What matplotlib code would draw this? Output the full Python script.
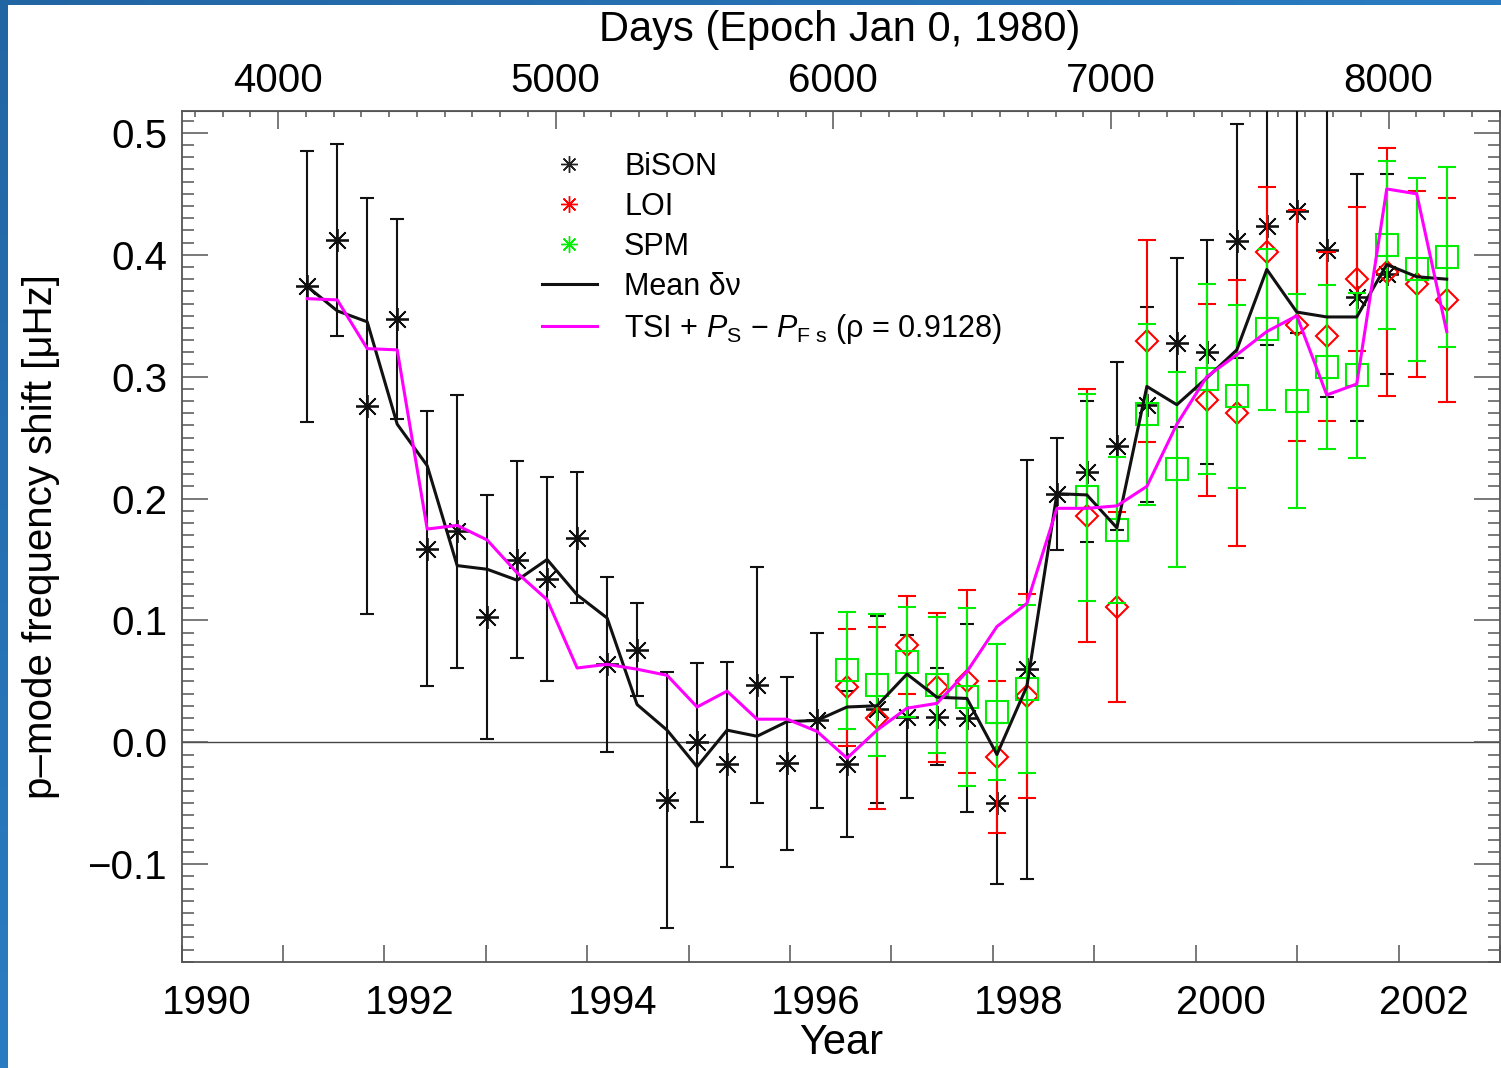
import numpy as np
import matplotlib
matplotlib.use('Agg')
import matplotlib.pyplot as plt
from matplotlib.lines import Line2D
from matplotlib.ticker import MultipleLocator, FuncFormatter

plt.rcParams['font.family'] = ['Liberation Sans', 'DejaVu Sans']
plt.rcParams['mathtext.fontset'] = 'custom'
plt.rcParams['mathtext.rm'] = 'Liberation Sans'
plt.rcParams['mathtext.it'] = 'Liberation Sans:italic'

# BiSON (days since Jan 0, 1980)
bison_days = [4105, 4213, 4321, 4429, 4537, 4645, 4753, 4861, 4969, 5077,
              5185, 5293, 5401, 5509, 5617, 5725, 5833, 5941, 6049, 6157,
              6265, 6373, 6481, 6589, 6697, 6805, 6913, 7021, 7129, 7237,
              7345, 7453, 7561, 7669, 7777, 7885, 7993]
bison_val = [0.374, 0.412, 0.276, 0.347, 0.159, 0.173, 0.103, 0.150, 0.134, 0.168,
             0.064, 0.076, -0.047, 0.000, -0.018, 0.047, -0.017, 0.018, -0.018, 0.027,
             0.021, 0.021, 0.020, -0.050, 0.060, 0.204, 0.222, 0.243, 0.277, 0.328,
             0.320, 0.411, 0.424, 0.436, 0.404, 0.365, 0.384]
bison_err = [0.111, 0.079, 0.171, 0.082, 0.113, 0.112, 0.100, 0.081, 0.084, 0.054,
             0.072, 0.038, 0.105, 0.065, 0.084, 0.097, 0.071, 0.072, 0.060, 0.077,
             0.067, 0.040, 0.077, 0.066, 0.172, 0.046, 0.058, 0.069, 0.080, 0.069,
             0.092, 0.096, 0.098, 0.100, 0.121, 0.101, 0.082]

# LOI
loi_days = [6049, 6157, 6265, 6373, 6481, 6589, 6697, 6913, 7021, 7129,
            7345, 7453, 7561, 7669, 7777, 7885, 7993, 8101, 8209]
loi_val = [0.045, 0.020, 0.080, 0.045, 0.050, -0.012, 0.038, 0.186, 0.111, 0.329,
           0.281, 0.270, 0.402, 0.342, 0.333, 0.380, 0.386, 0.376, 0.363]
loi_err = [0.048, 0.075, 0.040, 0.061, 0.075, 0.062, 0.084, 0.104, 0.078, 0.083,
           0.079, 0.109, 0.054, 0.095, 0.069, 0.059, 0.102, 0.076, 0.084]

# SPM
spm_days = [6049, 6157, 6265, 6373, 6481, 6589, 6697, 6913, 7021, 7129,
            7237, 7345, 7453, 7561, 7669, 7777, 7885, 7993, 8101, 8209]
spm_val = [0.059, 0.047, 0.066, 0.047, 0.037, 0.025, 0.044, 0.201, 0.174, 0.269,
           0.224, 0.298, 0.284, 0.339, 0.280, 0.308, 0.301, 0.408, 0.388, 0.398]
spm_err = [0.048, 0.058, 0.045, 0.056, 0.073, 0.056, 0.069, 0.085, 0.060, 0.074,
           0.080, 0.078, 0.075, 0.066, 0.088, 0.067, 0.068, 0.069, 0.075, 0.074]

# mean shift and TSI proxy
line_days = bison_days + [8101, 8209]
mean_val = [0.374, 0.354, 0.345, 0.261, 0.227, 0.145, 0.142, 0.133, 0.150, 0.121,
            0.102, 0.031, 0.010, -0.020, 0.010, 0.005, 0.017, 0.018, 0.029, 0.030,
            0.056, 0.037, 0.036, -0.010, 0.046, 0.204, 0.203, 0.176, 0.292, 0.277,
            0.299, 0.322, 0.388, 0.353, 0.349, 0.349, 0.392, 0.382, 0.380]
tsi_val = [0.364, 0.363, 0.323, 0.322, 0.175, 0.178, 0.166, 0.139, 0.117, 0.061,
           0.064, 0.060, 0.055, 0.029, 0.042, 0.019, 0.019, 0.009, -0.013, 0.010,
           0.028, 0.032, 0.058, 0.095, 0.114, 0.192, 0.192, 0.194, 0.210, 0.261,
           0.300, 0.318, 0.337, 0.350, 0.285, 0.294, 0.454, 0.450, 0.337]

year_labels = [1990, 1992, 1994, 1996, 1998, 2000, 2002]


def d2y(d):
    return 1980.0 + np.asarray(d, dtype=float) / 365.25


def y2d(y):
    return (np.asarray(y, dtype=float) - 1980.0) * 365.25


fig = plt.figure(figsize=(15.01, 10.68), dpi=100)
ax = fig.add_axes([0.1210, 0.0995, 0.8783, 0.7966])

axis_col = '#555555'
for s in ax.spines.values():
    s.set_color(axis_col)
    s.set_linewidth(1.3)

ax.axhline(0.0, color='#444444', lw=1.0, zorder=1)

ast = (8, 2, 0)
ax.errorbar(d2y(bison_days), bison_val, yerr=bison_err, fmt='none',
            ecolor='#111111', elinewidth=1.5, capsize=4.8, capthick=1.5, zorder=3)
ax.plot(d2y(bison_days), bison_val, ls='none', marker=ast, ms=16.5,
        mec='#111111', mew=1.3, zorder=3)

ax.errorbar(d2y(loi_days), loi_val, yerr=loi_err, fmt='none',
            ecolor='#ff0000', elinewidth=1.5, capsize=6.5, capthick=1.5, zorder=4)
ax.plot(d2y(loi_days), loi_val, ls='none', marker='D', ms=11.5,
        mfc='none', mec='#ff0000', mew=1.5, zorder=4)

ax.errorbar(d2y(spm_days), spm_val, yerr=spm_err, fmt='none',
            ecolor='#00ee00', elinewidth=1.5, capsize=6.5, capthick=1.5, zorder=5)
ax.plot(d2y(spm_days), spm_val, ls='none', marker='s', ms=16.5,
        mfc='none', mec='#00ee00', mew=1.5, zorder=5)

ax.plot(d2y(line_days), mean_val, color='#111111', lw=2.2, zorder=6)
ax.plot(d2y(line_days), tsi_val, color='#ff00ff', lw=2.2, zorder=7)

ax.set_xlim(1990, 2003)
ax.set_ylim(-0.180, 0.518)

# bottom axis: year ticks, labels sit a quarter year right of the ticks
ax.set_xticks(np.arange(1990, 2004))
ax.set_xticklabels([])
ax.set_xticks([y + 0.25 for y in year_labels], minor=True)
ax.set_xticklabels([str(y) for y in year_labels], minor=True)
ax.tick_params(axis='x', which='major', direction='in', length=12, width=1.1,
               color=axis_col, top=False)
ax.tick_params(axis='x', which='minor', length=0, labelsize=29, pad=16, top=False)

ax.yaxis.set_major_locator(MultipleLocator(0.1))
ax.yaxis.set_minor_locator(MultipleLocator(0.01))
ax.yaxis.set_major_formatter(FuncFormatter(lambda v, p: f'{v:.1f}'.replace('-', '\u2212')))
ax.tick_params(axis='y', which='major', direction='in', length=18.5, width=1.1,
               color=axis_col, right=True, labelsize=29, pad=10.5)
ax.tick_params(axis='y', which='minor', direction='in', length=8.5, width=1.1,
               color=axis_col, right=True)

ax.set_xlabel('Year', fontsize=30)
ax.xaxis.set_label_coords(0.5, -0.072)
ax.set_ylabel('p\u2013mode frequency shift [\u03bcHz]', fontsize=29)
ax.yaxis.set_label_coords(-0.092, 0.5)

# top axis in days
sec = ax.secondary_xaxis('top', functions=(y2d, d2y))
sec.set_xticks(np.arange(4000, 8001, 1000))
sec.xaxis.set_minor_locator(MultipleLocator(100))
sec.spines['top'].set_color(axis_col)
sec.tick_params(axis='x', which='major', direction='in', length=13, width=1.1,
                color=axis_col, labelsize=29, pad=8)
sec.tick_params(axis='x', which='minor', direction='in', length=4.5, width=1.1,
                color=axis_col)
fig.text(0.5597, 1 - 29.5 / 1068, 'Days (Epoch Jan 0, 1980)', fontsize=30,
         ha='center', va='center')

handles = [
    Line2D([], [], ls='none', marker=ast, ms=12, mec='#222222', mew=1.0),
    Line2D([], [], ls='none', marker=ast, ms=12, mec='#ff0000', mew=1.0),
    Line2D([], [], ls='none', marker=ast, ms=12, mec='#00ee00', mew=1.0),
    Line2D([], [], color='#111111', lw=2.2),
    Line2D([], [], color='#ff00ff', lw=2.2),
]
labels = ['BiSON', 'LOI', 'SPM', 'Mean \u03b4\u03bd',
          'TSI + $P_{\\mathrm{S}}$ \u2212 $P_{\\mathrm{F\\ s}}$ (\u03c1 = 0.9128)']
ax.legend(handles, labels, loc='upper left', bbox_to_anchor=(0.273, 0.952),
          frameon=False, fontsize=22, handlelength=1.8, handletextpad=0.9,
          labelspacing=0.33, borderpad=0, borderaxespad=0, numpoints=1)

# blue slide border at left and top
grad = np.linspace(0, 1, 256).reshape(-1, 1)
lax = fig.add_axes([0, 0, 8 / 1501, 1])
lax.imshow(grad, aspect='auto', cmap=matplotlib.colors.LinearSegmentedColormap.from_list(
    'b', ['#2a7cc2', '#2265a3']), origin='lower')
lax.axis('off')
tax = fig.add_axes([0, 1 - 5 / 1068, 1, 5 / 1068])
tax.imshow(grad.T, aspect='auto', cmap=matplotlib.colors.LinearSegmentedColormap.from_list(
    't', ['#2265a3', '#2a7cc2']))
tax.axis('off')

fig.savefig('out.png', dpi=100)
